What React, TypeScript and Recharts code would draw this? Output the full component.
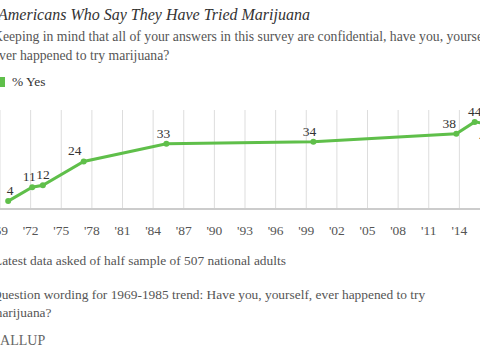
import { LineChart, CartesianGrid, XAxis, YAxis, Line, LabelList } from "recharts"

// survey dates (fractional year) and share who say they have tried marijuana
const surveyDates = [1969.8, 1972.15, 1973.2, 1977.2, 1985.3, 1999.7, 2013.7, 2015.5, 2016.6]
const yesValues = [4, 11, 12, 24, 33, 34, 38, 44, 43]
const tickYears = [1969, 1972, 1975, 1978, 1981, 1984, 1987, 1990, 1993, 1996, 1999, 2002, 2005, 2008, 2011, 2014]

const data = surveyDates.map((d, i) => ({ date: d, yes: yesValues[i] }))

const GREEN = "#5fbf4a"
const SERIF = '"Liberation Serif", "DejaVu Serif", serif'

// small horizontal nudges so labels sit where Gallup put them
const labelNudge = [2, -3, 0, -9, -3, -4, -7, 0, 0]

const PointLabel = (props: any) => {
    const { x, y, value, index } = props
    const below = index === yesValues.length - 1
    return (
        <text
            x={x + (labelNudge[index] || 0)}
            y={below ? y + 17 : y - 6}
            textAnchor="middle"
            fontSize={13.5}
            fontFamily={SERIF}
            fill="#333"
        >
            {value}
        </text>
    )
}

const text = (top: number, extra: any = {}) => ({
    position: "absolute" as const,
    left: -8,
    top,
    whiteSpace: "nowrap" as const,
    fontSize: 13.4,
    lineHeight: "19px",
    color: "#555",
    ...extra,
})

const App = () => {
    return (
        <div style={{ position: "fixed", left: 0, top: 0, width: 480, height: 354, overflow: "hidden", background: "#fff", fontFamily: SERIF }}>
            <div style={text(5, { fontSize: 16, lineHeight: "20px", fontStyle: "italic", color: "#333", left: -2 })}>
                Americans Who Say They Have Tried Marijuana
            </div>
            <div style={text(27, { left: -7, fontSize: 13.7 })}>
                Keeping in mind that all of your answers in this survey are confidential, have you, yourself,
                <br />
                ever happened to try marijuana?
            </div>
            <div style={{ position: "absolute", left: -5, top: 77, width: 10, height: 10, background: GREEN }} />
            <div style={text(72, { left: 12, color: "#333" })}>% Yes</div>

            <div style={{ position: "absolute", left: 0, top: 100 }}>
                <LineChart width={500} height={139} data={data} margin={{ top: 10, right: 10, left: 0, bottom: 0 }}>
                    <CartesianGrid horizontal={false} stroke="#ddd" />
                    <XAxis
                        dataKey="date"
                        type="number"
                        domain={[1969, 2017]}
                        ticks={tickYears}
                        interval={0}
                        tickFormatter={(v: number) => "'" + String(v).slice(2)}
                        tickLine={false}
                        axisLine={{ stroke: "#ccc", strokeWidth: 2 }}
                        tickMargin={10}
                        height={30}
                        tick={{ fontSize: 13.5, fontFamily: SERIF, fill: "#555" }}
                    />
                    <YAxis hide domain={[0, 50]} />
                    <Line
                        type="linear"
                        dataKey="yes"
                        stroke={GREEN}
                        strokeWidth={3}
                        dot={{ r: 3, fill: GREEN, stroke: GREEN, strokeWidth: 0 }}
                        isAnimationActive={false}
                    >
                        <LabelList dataKey="yes" content={<PointLabel />} />
                    </Line>
                </LineChart>
            </div>

            <div style={text(250.5, { left: -6 })}>Latest data asked of half sample of 507 national adults</div>
            <div style={text(286, { lineHeight: "18px" })}>
                Question wording for 1969-1985 trend: Have you, yourself, ever happened to try
                <br />
                marijuana?
            </div>
            <div style={text(331, { fontSize: 14, color: "#666", left: -10 })}>GALLUP</div>
        </div>
    )
}

export default App
